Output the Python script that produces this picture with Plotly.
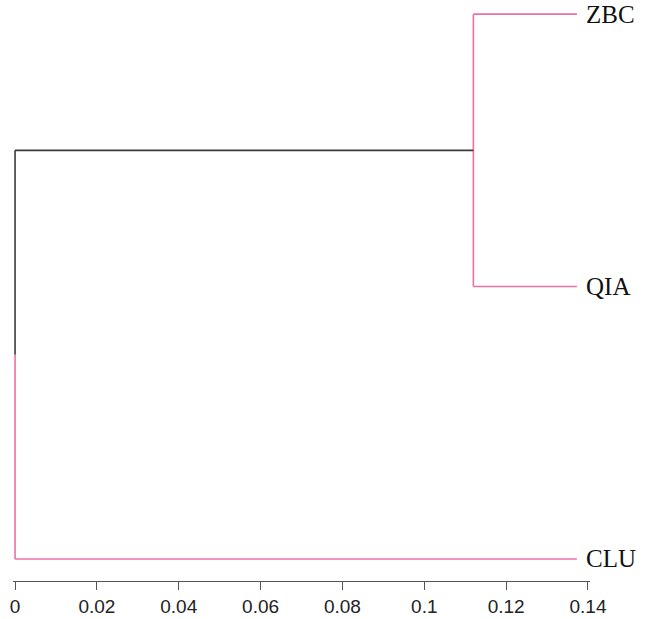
import plotly.graph_objects as go

# ---- data ----
leaf_names = ["CLU", "QIA", "ZBC"]
leaf_pos = [1, 2, 3]
leaf_height = 0.1373          # where leaf branches end
merge_zbc_qia = 0.112         # height of ZBC-QIA merge
root_height = 0.0             # root height
tick_vals = [0, 0.02, 0.04, 0.06, 0.08, 0.1, 0.12, 0.14]
tick_text = ["0", "0.02", "0.04", "0.06", "0.08", "0.1", "0.12", "0.14"]

PINK = "#EC6FA8"
DARK = "#3a3a3a"

y_clu, y_qia, y_zbc = leaf_pos
y_zq = (y_qia + y_zbc) / 2
y_root_mid = (y_clu + y_zq) / 2

segments = [
    # (x0, y0, x1, y1, color)
    (merge_zbc_qia, y_zbc, leaf_height, y_zbc, PINK),
    (merge_zbc_qia, y_qia, leaf_height, y_qia, PINK),
    (merge_zbc_qia, y_qia, merge_zbc_qia, y_zbc, PINK),
    (root_height, y_zq, merge_zbc_qia, y_zq, DARK),
    (root_height, y_root_mid, root_height, y_zq, DARK),
    (root_height, y_clu, root_height, y_root_mid, PINK),
    (root_height, y_clu, leaf_height, y_clu, PINK),
]

fig = go.Figure()
for x0, y0, x1, y1, c in segments:
    fig.add_trace(go.Scatter(x=[x0, x1], y=[y0, y1], mode="lines",
                             line=dict(color=c, width=1.6),
                             hoverinfo="skip", showlegend=False))

for name, y in zip(leaf_names, leaf_pos):
    fig.add_annotation(x=leaf_height, y=y, text=name, showarrow=False,
                       xanchor="left", yanchor="middle", xshift=7,
                       font=dict(family="Liberation Serif", size=25, color="#111"))

fig.update_layout(
    width=646, height=627,
    margin=dict(l=12, r=56, t=10, b=39.5),
    plot_bgcolor="white", paper_bgcolor="white",
    xaxis=dict(range=[-0.0005, 0.1405], tickvals=tick_vals, ticktext=tick_text,
               showgrid=False, zeroline=False, showline=True,
               linecolor="#555", linewidth=1.2,
               ticks="outside", ticklen=8, tickcolor="#555", tickwidth=1.2,
               tickfont=dict(family="Liberation Sans", size=19, color="#222")),
    yaxis=dict(range=[0.9191, 3.0152], visible=False, showgrid=False, zeroline=False),
)

fig.write_html("out.html", config={"displayModeBar": False},
               post_script="document.body.style.margin='0';document.body.style.overflow='hidden';")
